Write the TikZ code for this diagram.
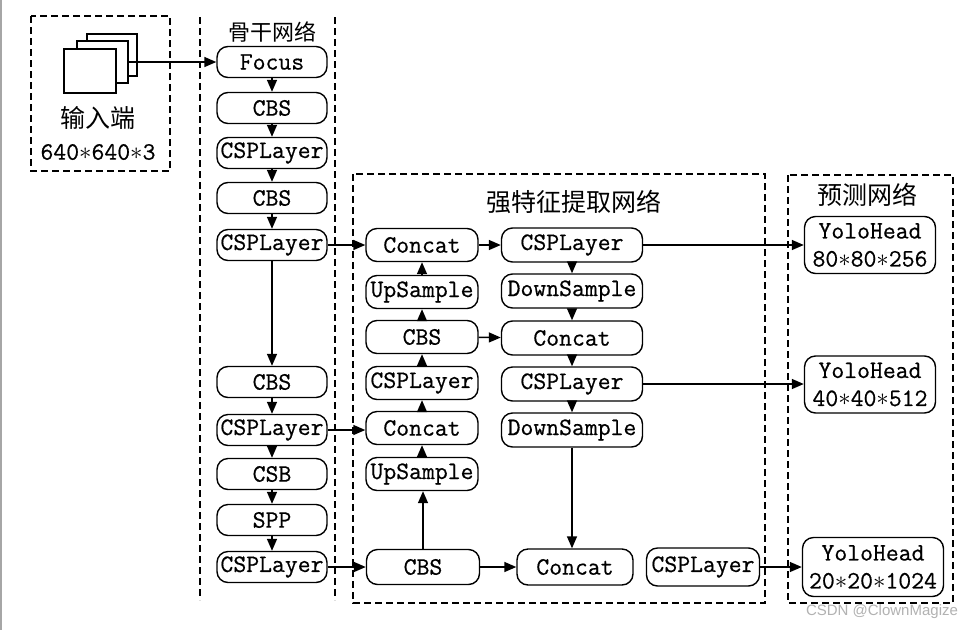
\documentclass[tikz,border=0pt]{standalone}
\usepackage{fontspec}
\newfontfamily\cjk{Noto Sans CJK SC}
\newfontfamily\wmfont{Liberation Sans}
\newfontfamily\monob[FakeBold=0.6]{Latin Modern Mono}
\usetikzlibrary{arrows.meta}
\newcommand{\st}{$\ast$}
\begin{document}
\begin{tikzpicture}[x=1pt,y=-1pt,
  blk/.style={draw, line width=1.4pt, rounded corners=11pt, inner sep=0pt, align=center,
    font=\fontsize{25}{28}\selectfont\monob, fill=white},
  bb/.style={blk, minimum width=110pt, minimum height=31pt},
  c1/.style={blk, minimum width=112pt, minimum height=33pt},
  c2/.style={blk, minimum width=141pt, minimum height=34pt},
  hd/.style={blk, minimum width=131pt, minimum height=57pt},
  sq/.style={draw, line width=1.4pt, fill=white, inner sep=0pt},
  arr/.style={line width=1.5pt, -{Triangle[length=12pt,width=10pt]}},
  box/.style={line width=1.5pt, dash pattern=on 7pt off 4pt},
  ttl/.style={font=\fontsize{25}{27}\selectfont\cjk, inner sep=0pt},
  txt/.style={font=\fontsize{25}{27}\selectfont\monob, inner sep=0pt}]
\useasboundingbox (0,0) rectangle (977,630);
\fill[white] (0,0) rectangle (977,630);
\draw[gray!70, line width=2pt] (1,0) -- (1,630);

% containers
\draw[box] (31,16) rectangle (170,171);
\draw[box] (200,17) -- (200,600);
\draw[box] (335,17) -- (335,600);
\draw[box] (353,174) rectangle (765,603);
\draw[box] (788,175) rectangle (953,603);

% titles
\node[ttl, font=\fontsize{22}{24}\selectfont\cjk] (tb) at (272,32) {骨干网络};
\node[ttl] (tn) at (574,202) {强特征提取网络};
\node[ttl] (tp) at (867,195) {预测网络};
\node[ttl] (tin) at (98,118) {输入端};
\node[txt] (tsz) at (98,152) {640\st640\st3};

% input squares
\node[sq, minimum width=50pt, minimum height=42pt] (sqb) at (112,55) {};
\node[sq, minimum width=51pt, minimum height=42pt] (sqm) at (102.5,62) {};
\node[sq, minimum width=52pt, minimum height=44pt] (sqf) at (90,71) {};

% backbone
\node[bb] (f1) at (272,62) {Focus};
\node[bb] (b1) at (272,108) {CBS};
\node[bb] (b2) at (272,153) {CSPLayer};
\node[bb] (b3) at (272,198) {CBS};
\node[bb] (b4) at (272,245) {CSPLayer};
\node[bb] (b5) at (272,382) {CBS};
\node[bb] (b6) at (272,430) {CSPLayer};
\node[bb] (b7) at (272,474) {CSB};
\node[bb] (b8) at (272,520) {SPP};
\node[bb] (b9) at (272,567) {CSPLayer};

% neck column 1
\node[c1] (n1) at (422,245) {Concat};
\node[c1] (n2) at (422,292) {UpSample};
\node[c1] (n3) at (422,337) {CBS};
\node[c1] (n4) at (422,383) {CSPLayer};
\node[c1] (n5) at (422,428) {Concat};
\node[c1] (n6) at (422,474) {UpSample};
\node[c1, minimum width=113pt, minimum height=35pt] (n7) at (423,567) {CBS};

% neck column 2
\node[c2] (m1) at (572,245) {CSPLayer};
\node[c2] (m2) at (572,291) {DownSample};
\node[c2] (m3) at (572,338) {Concat};
\node[c2] (m4) at (572,384) {CSPLayer};
\node[c2] (m5) at (572,430) {DownSample};
\node[blk, minimum width=116pt, minimum height=36pt] (m6) at (575,567) {Concat};
\node[blk, minimum width=113pt, minimum height=38pt] (m7) at (703,567) {CSPLayer};

% heads
\node[hd] (h1) at (870,245) {YoloHead\\80\st80\st256};
\node[hd] (h2) at (870,384.5) {YoloHead\\40\st40\st512};
\node[hd, minimum width=141pt, minimum height=59pt] (h3) at (873,567) {YoloHead\\20\st20\st1024};

% watermark
\node[font=\fontsize{15}{17}\selectfont\wmfont, text=gray!60, inner sep=0pt] (wm) at (882,612) {CSDN @ClownMagize};

% connectors
\draw[arr] (sqm.east |- f1.west) -- (f1.west);
\draw[arr] (f1) -- (b1);
\draw[arr] (b1) -- (b2);
\draw[arr] (b2) -- (b3);
\draw[arr] (b3) -- (b4);
\draw[arr] (b4) -- (b5);
\draw[arr] (b5) -- (b6);
\draw[arr] (b6) -- (b7);
\draw[arr] (b7) -- (b8);
\draw[arr] (b8) -- (b9);

\draw[arr] (b4) -- (n1);
\draw[arr] (b6.east) -- (b6.east -| n5.west);
\draw[arr] (b9) -- (n7);

\draw[arr] (n7.north) -- (n7.north |- n6.south);
\draw[arr] (n6) -- (n5);
\draw[arr] (n5) -- (n4);
\draw[arr] (n4) -- (n3);
\draw[arr] (n3) -- (n2);
\draw[arr] (n2) -- (n1);

\draw[arr] (n1) -- (m1);
\draw[arr] (n3) -- (m3);
\draw[arr] (n7) -- (m6);

\draw[arr] (m1) -- (m2);
\draw[arr] (m2) -- (m3);
\draw[arr] (m3) -- (m4);
\draw[arr] (m4) -- (m5);
\draw[arr] (m5.south) -- (m5.south |- m6.north);

\draw[arr] (m1) -- (h1);
\draw[arr] (m4.east) -- (m4.east -| h2.west);
\draw[arr] (m7) -- (h3);
\end{tikzpicture}
\end{document}
